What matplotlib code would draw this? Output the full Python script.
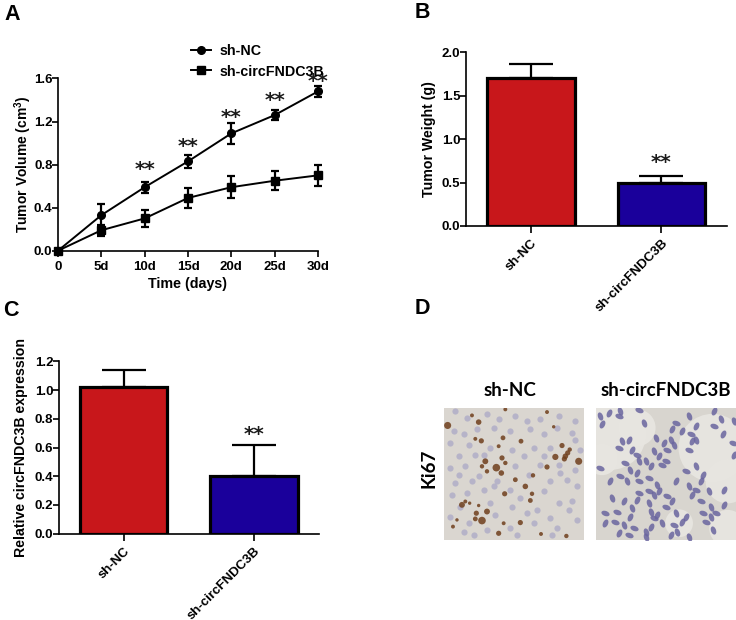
import matplotlib
matplotlib.use("Agg")
import matplotlib.pyplot as plt
from matplotlib.lines import Line2D
from matplotlib.markers import MarkerStyle
from matplotlib.transforms import Affine2D

plt.rcParams['font.family'] = ['Liberation Sans', 'DejaVu Sans']
plt.rcParams['font.weight'] = 'bold'
plt.rcParams['axes.labelweight'] = 'bold'
plt.rcParams['mathtext.default'] = 'regular'
plt.rcParams['mathtext.fontset'] = 'custom'
plt.rcParams['mathtext.bf'] = 'Liberation Sans:bold'
plt.rcParams['mathtext.rm'] = 'Liberation Sans:bold'

W, H = 736, 620

# panel A
days = [0, 5, 10, 15, 20, 25, 30]
day_labels = ['0', '5d', '10d', '15d', '20d', '25d', '30d']
nc_vol = [0.0, 0.33, 0.59, 0.83, 1.09, 1.26, 1.48]
nc_err = [0.0, 0.10, 0.05, 0.06, 0.10, 0.05, 0.05]
kd_vol = [0.0, 0.19, 0.30, 0.49, 0.59, 0.65, 0.70]
kd_err = [0.0, 0.05, 0.08, 0.09, 0.10, 0.09, 0.10]
star_days = [10, 15, 20, 25, 30]
star_vals = [0.75, 0.97, 1.24, 1.40, 1.57]

# panels B and C
groups = ['sh-NC', 'sh-circFNDC3B']
weight = [1.70, 0.50]
weight_err = [0.16, 0.07]
expr = [1.02, 0.40]
expr_err = [0.12, 0.215]

# panel D, spots (crop coordinates)
nc_brown_x = [12, 105, 85, 185, 310, 95, 113, 178, 165, 232, 355, 335, 365, 378, 405, 125, 115, 158, 185, 175,
              130, 173, 215, 245, 268, 310, 265, 260, 183, 55, 65, 98, 130, 95, 115, 28, 180, 230, 165, 292, 368,
              40, 78, 105, 330, 372, 362]
nc_brown_y = [58, 48, 28, 10, 18, 98, 104, 95, 120, 105, 118, 152, 150, 130, 165, 165, 180, 184, 170, 155,
              195, 200, 220, 240, 207, 182, 262, 282, 262, 295, 285, 320, 315, 337, 342, 360, 350, 348, 380, 382, 388,
              340, 290, 297, 62, 140, 158]
nc_brown_s = [26, 16, 8, 8, 8, 8, 14, 12, 8, 12, 14, 20, 16, 10, 26, 18, 10, 30, 10, 14,
              10, 16, 12, 16, 10, 14, 10, 12, 14, 18, 8, 14, 18, 12, 30, 8, 8, 14, 14, 8, 10,
              6, 6, 6, 6, 14, 14]
nc_blue_x = [35, 70, 130, 165, 215, 250, 290, 345, 395, 30, 60, 100, 150, 200, 260, 300, 340, 385, 20, 75, 140,
             205, 270, 320, 395, 45, 95, 240, 300, 345, 410, 20, 65, 105, 215, 290, 350, 395, 35, 85, 150, 200,
             320, 370, 25, 70, 120, 160, 230, 300, 400, 50, 140, 205, 280, 345, 385, 20, 75, 155, 250, 320, 375,
             60, 130, 200, 270, 340, 400, 90, 220, 325, 255, 120, 45]
nc_blue_y = [15, 35, 25, 40, 30, 45, 38, 30, 45, 75, 85, 70, 65, 75, 70, 85, 65, 80, 110, 115, 125,
             130, 125, 125, 100, 150, 145, 150, 150, 175, 130, 185, 180, 210, 180, 175, 200, 190, 230, 225, 240, 250,
             225, 220, 265, 260, 250, 225, 275, 255, 240, 300, 290, 300, 310, 290, 285, 330, 350, 325, 320, 335, 310,
             375, 370, 365, 350, 365, 340, 385, 385, 385, 205, 145, 205]
kd_blue_x = [15, 40, 70, 75, 20, 130, 145, 230, 240, 280, 300, 355, 375, 380, 410, 225, 260, 285, 80, 100, 70,
             180, 205, 215, 235, 110, 125, 130, 290, 280, 300, 415, 15, 175, 190, 210, 150, 165, 200, 300, 320, 90,
             105, 125, 75, 95, 45, 130, 185, 240, 270, 280, 315, 300, 340, 385, 160, 175, 190, 215, 160, 230, 130,
             50, 85, 65, 110, 125, 30, 165, 185, 210, 240, 290, 315, 345, 385, 60, 85, 105, 175, 200, 260, 330, 350,
             70, 115, 150, 165, 235, 245, 270, 320, 345, 30, 100, 150, 225, 360, 415, 355, 160, 280]
kd_blue_y = [30, 20, 30, 15, 55, 12, 50, 70, 50, 30, 60, 60, 40, 85, 110, 100, 75, 85, 105, 100, 125,
             95, 110, 130, 115, 130, 145, 165, 105, 130, 100, 145, 185, 135, 150, 165, 165, 180, 175, 180, 205, 170,
             190, 200, 210, 225, 225, 225, 235, 225, 195, 240, 225, 250, 255, 250, 255, 265, 255, 270, 290, 285, 260,
             275, 285, 315, 305, 280, 320, 315, 325, 300, 320, 265, 285, 300, 295, 345, 355, 330, 335, 350, 345, 345, 370,
             380, 365, 375, 360, 355, 375, 330, 320, 330, 350, 385, 390, 385, 320, 45, 15, 215, 390]
kd_pale_x = [45, 350, 125, 395, 250, 395, 20]
kd_pale_y = [85, 125, 65, 225, 350, 365, 160]
kd_pale_s = [2600, 2400, 700, 1000, 400, 700, 500]

RED = '#c8171b'
BLUE = '#1a009b'


def add_axes_px(x0, x1, y_bottom, y_top):
    return fig.add_axes([x0 / W, 1 - y_bottom / H, (x1 - x0) / W, (y_bottom - y_top) / H])


def style(ax):
    ax.spines['top'].set_visible(False)
    ax.spines['right'].set_visible(False)
    ax.spines['left'].set_linewidth(1.2)
    ax.spines['bottom'].set_linewidth(1.2)
    ax.tick_params(width=1.2, length=4, labelsize=9.5)
    ax.tick_params(axis='y', pad=0)
    ax.tick_params(axis='x', pad=3.5)


def stars(ax, x, y):
    ax.text(x, y, '**', ha='center', va='center', fontsize=14.5, fontweight='bold',
            family='DejaVu Sans', color='#1c1c1c', clip_on=False)


def bar_panel(ax, vals, errs, ylim, yticks, ylabel, tick_fmt, star_y, pad):
    ax.bar([0, 1], vals, width=0.67, color=[RED, BLUE], edgecolor='black', linewidth=2.3, zorder=3)
    ax.errorbar([0, 1], vals, yerr=[[0, 0], errs], fmt='none', ecolor='black', elinewidth=1.6,
                capsize=16, capthick=1.6, zorder=2)
    ax.set_xlim(-0.5, 1.5)
    ax.set_ylim(*ylim)
    ax.set_yticks(yticks)
    ax.set_yticklabels([tick_fmt % v for v in yticks])
    ax.set_xticks([0, 1])
    ax.set_xticklabels(groups, rotation=45, ha='right', rotation_mode='anchor', fontsize=8.3)
    ax.set_ylabel(ylabel, fontsize=10.2, labelpad=pad)
    style(ax)
    ax.tick_params(axis='x', length=5, pad=3)
    stars(ax, 1, star_y)


def section(ax):
    ax.set_xlim(2, 420)
    ax.set_ylim(400, 5)
    ax.axis('off')


fig = plt.figure(figsize=(W / 100, H / 100), dpi=100)

# A
ax = add_axes_px(58, 318, 250.7, 78.5)
ax.errorbar(days, nc_vol, yerr=nc_err, fmt='-o', color='black', lw=1.4, ms=5.5, elinewidth=1.6,
            capsize=3.2, capthick=1.6, clip_on=False, zorder=3)
ax.errorbar(days, kd_vol, yerr=kd_err, fmt='-s', color='black', lw=1.4, ms=5.5, elinewidth=1.6,
            capsize=3.2, capthick=1.6, clip_on=False, zorder=3)
ax.set_xlim(0, 30)
ax.set_ylim(0, 1.6)
ax.set_xticks(days)
ax.set_xticklabels(day_labels)
ax.set_yticks([0, 0.4, 0.8, 1.2, 1.6])
ax.set_yticklabels(['0.0', '0.4', '0.8', '1.2', '1.6'])
ax.set_xlabel('Time (days)', fontsize=10.3, labelpad=3)
ax.set_ylabel('Tumor Volume (cm$^{3}$)', fontsize=10, labelpad=0)
style(ax)
for d, v in zip(star_days, star_vals):
    stars(ax, d, v)
handles = [Line2D([], [], color='black', lw=1.4, marker='o', ms=5.5),
           Line2D([], [], color='black', lw=1.4, marker='s', ms=5.5)]
ax.legend(handles, groups, loc='lower left', bbox_to_anchor=(0.51, 1.0), frameon=False, fontsize=10.3,
          handlelength=1.4, handletextpad=0.6, labelspacing=0.42, borderpad=0, borderaxespad=0)

# B
ax = add_axes_px(465.7, 726.7, 226, 52.3)
bar_panel(ax, weight, weight_err, (0, 2.0), [0, 0.5, 1.0, 1.5, 2.0], 'Tumor Weight (g)', '%.1f', 0.73, 4)

# C
ax = add_axes_px(58.7, 319, 533.7, 361.3)
bar_panel(ax, expr, expr_err, (0, 1.2), [0, 0.2, 0.4, 0.6, 0.8, 1.0, 1.2],
          'Relative circFNDC3B expression', '%.1f', 0.69, 4.5)

# D
ax = add_axes_px(444.3, 583.7, 540, 407.7)
ax.add_patch(plt.Rectangle((2, 5), 418, 395, color='#dad6d0', zorder=0))
ax.scatter(nc_blue_x, nc_blue_y, s=20, color='#aeabc6', alpha=0.8, linewidths=0, zorder=1)
ax.scatter(nc_brown_x, nc_brown_y, s=nc_brown_s, color='#6f3f1c', alpha=0.85, linewidths=0, zorder=2)
section(ax)

ax = add_axes_px(596, 736, 540, 407.7)
ax.add_patch(plt.Rectangle((2, 5), 418, 395, color='#d8d5cf', zorder=0))
ax.scatter(kd_pale_x, kd_pale_y, s=kd_pale_s, color='#e8e6e1', alpha=0.9, linewidths=0, zorder=1)
for start, angle in [(0, 20), (1, -25), (2, 70)]:
    nucleus = MarkerStyle('o', transform=Affine2D().scale(0.75, 1.25).rotate_deg(angle))
    ax.scatter(kd_blue_x[start::3], kd_blue_y[start::3], s=24, marker=nucleus, color='#6a659f',
               alpha=0.85, linewidths=0, zorder=2)
section(ax)

for txt, px, py, size, rot in [('sh-NC', 510, 391, 13.5, 0), ('sh-circFNDC3B', 666, 391, 13.5, 0),
                               ('Ki67', 429, 468, 13.5, 90)]:
    fig.text(px / W, 1 - py / H, txt, ha='center', va='center', fontsize=size, rotation=rot,
             family='Lato', fontweight='bold')

for txt, px, py in [('A', 12, 14), ('B', 422, 13), ('C', 11, 310), ('D', 422, 309)]:
    fig.text(px / W, 1 - py / H, txt, ha='center', va='center', fontsize=15.5, fontweight='bold')

fig.savefig('out.png', dpi=100)
